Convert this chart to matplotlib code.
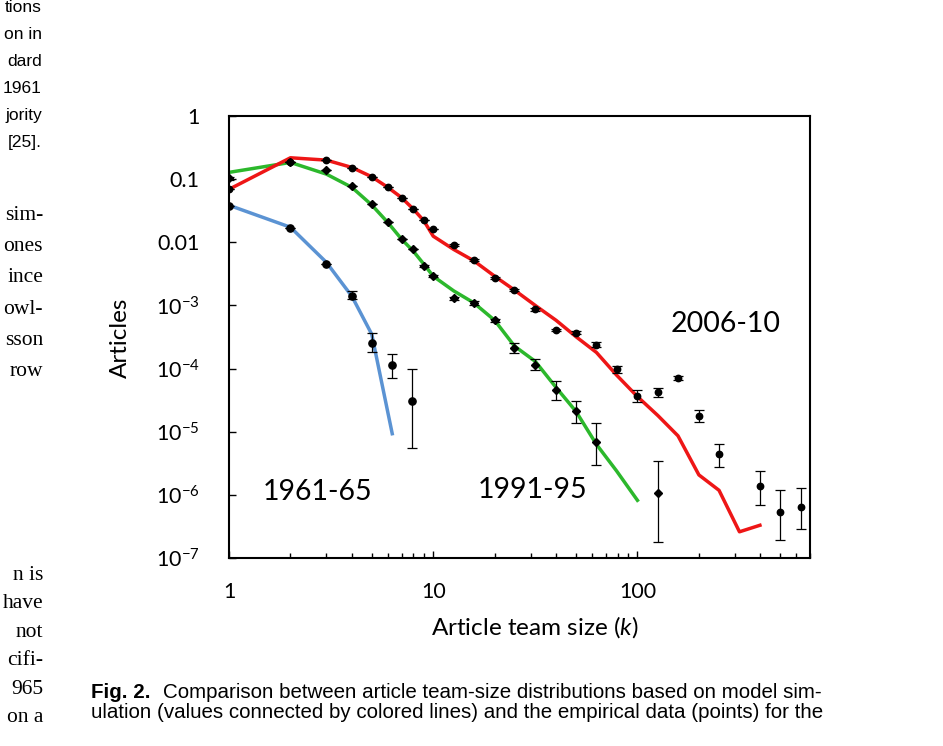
import numpy as np
import matplotlib.pyplot as plt
from matplotlib.ticker import LogLocator, FixedLocator, NullFormatter

plt.rcParams['font.family'] = ['Lato', 'DejaVu Sans']
plt.rcParams['mathtext.fontset'] = 'custom'
plt.rcParams['mathtext.rm'] = 'Lato'
plt.rcParams['mathtext.it'] = 'Lato:italic'

# ---- data ----
# model curves (lines)
k_model_61 = [1, 2, 3, 4, 5, 6.3]
y_model_61 = [0.0386, 0.0173, 0.0048, 1.39e-3, 3.5e-4, 9.3e-6]

k_model_91 = [1, 2, 3, 4, 5, 6, 7, 8, 9, 10, 12.6, 15.8, 20, 25, 31.6, 40, 50, 63, 79, 100]
y_model_91 = [0.128, 0.184, 0.12, 0.074, 0.039, 0.0205, 0.0112, 0.0072, 4.5e-3, 2.9e-3,
              1.7e-3, 1.1e-3, 5.8e-4, 2.27e-4, 1.3e-4, 5.0e-5, 2.1e-5, 6.3e-6, 2.4e-6, 8.2e-7]

k_model_06 = [1, 2, 3, 4, 5, 6, 7, 8, 9, 10, 12.6, 15.8, 20, 25, 31.6, 40, 50, 63, 79,
              100, 126, 158, 200, 251, 316, 398]
y_model_06 = [0.069, 0.218, 0.2, 0.153, 0.109, 0.074, 0.051, 0.0334, 0.0219, 0.0125,
              7.7e-3, 5.1e-3, 2.9e-3, 1.75e-3, 1.0e-3, 5.8e-4, 3.2e-4, 1.8e-4, 7.9e-5,
              3.6e-5, 1.8e-5, 8.6e-6, 2.07e-6, 1.18e-6, 2.6e-7, 3.3e-7]

# empirical points, with lower / upper ends of the error bars
k_data_61 = [1, 2, 3, 4, 5, 6.3, 7.9]
y_data_61 = [0.038, 0.017, 0.0046, 1.4e-3, 2.5e-4, 1.12e-4, 3.1e-5]
lo_data_61 = [0.038, 0.017, 0.0046, 1.25e-3, 1.8e-4, 7.0e-5, 5.5e-6]
hi_data_61 = [0.038, 0.017, 0.0046, 1.68e-3, 3.7e-4, 1.73e-4, 1.0e-4]

k_data_91 = [1, 2, 3, 4, 5, 6, 7, 8, 9, 10, 12.6, 15.8, 20, 25, 31.6, 40, 50, 63, 126]
y_data_91 = [0.103, 0.185, 0.14, 0.078, 0.040, 0.0213, 0.0112, 7.7e-3, 4.2e-3, 2.9e-3,
             1.29e-3, 1.1e-3, 5.8e-4, 2.09e-4, 1.16e-4, 4.6e-5, 2.1e-5, 6.8e-6, 1.06e-6]
lo_data_91 = [0.098, 0.185, 0.14, 0.078, 0.040, 0.0213, 0.0112, 7.7e-3, 4.0e-3, 2.8e-3,
              1.22e-3, 1.03e-3, 5.4e-4, 1.78e-4, 9.6e-5, 3.2e-5, 1.38e-5, 3.0e-6, 1.8e-7]
hi_data_91 = [0.108, 0.185, 0.14, 0.078, 0.040, 0.0213, 0.0112, 7.7e-3, 4.4e-3, 3.0e-3,
              1.36e-3, 1.17e-3, 6.2e-4, 2.5e-4, 1.44e-4, 6.3e-5, 3.1e-5, 1.35e-5, 3.5e-6]

k_data_06 = [1, 2, 3, 4, 5, 6, 7, 8, 9, 10, 12.6, 15.8, 20, 25, 31.6, 40, 50, 63, 79,
             100, 126, 158, 200, 251, 398, 501, 631]
y_data_06 = [0.071, 0.19, 0.2, 0.151, 0.109, 0.074, 0.051, 0.0334, 0.0223, 0.0162,
             9.1e-3, 5.2e-3, 2.75e-3, 1.75e-3, 8.7e-4, 4.1e-4, 3.7e-4, 2.4e-4, 9.9e-5,
             3.7e-5, 4.3e-5, 7.1e-5, 1.79e-5, 4.4e-6, 1.38e-6, 5.4e-7, 6.4e-7]
lo_data_06 = [0.071, 0.19, 0.2, 0.151, 0.109, 0.074, 0.051, 0.0334, 0.0223, 0.0162,
              8.8e-3, 5.0e-3, 2.65e-3, 1.68e-3, 8.3e-4, 3.9e-4, 3.5e-4, 2.2e-4, 8.6e-5,
              3.0e-5, 3.6e-5, 6.6e-5, 1.41e-5, 2.8e-6, 6.9e-7, 1.9e-7, 2.9e-7]
hi_data_06 = [0.071, 0.19, 0.2, 0.151, 0.109, 0.074, 0.051, 0.0334, 0.0223, 0.0162,
              9.4e-3, 5.4e-3, 2.85e-3, 1.82e-3, 9.1e-4, 4.3e-4, 3.9e-4, 2.6e-4, 1.1e-4,
              4.5e-5, 4.9e-5, 7.5e-5, 2.2e-5, 6.4e-6, 2.4e-6, 1.2e-6, 1.27e-6]

y_ticks = [1e-7, 1e-6, 1e-5, 1e-4, 1e-3, 1e-2, 1e-1, 1]
y_ticklabels = [r'10$^{\mathregular{-7}}$', r'10$^{\mathregular{-6}}$', r'10$^{\mathregular{-5}}$',
                r'10$^{\mathregular{-4}}$', r'10$^{\mathregular{-3}}$', '0.01', '0.1', '1']
x_ticks = [1, 10, 100]
x_ticklabels = ['1', '10', '100']

col_61 = '#5b93d3'
col_91 = '#2cb82c'
col_06 = '#ee1616'

fig = plt.figure(figsize=(9.43, 7.46), dpi=100)
ax = fig.add_axes([229 / 943, 1 - 558 / 746, 581 / 943, 442 / 746])

ax.plot(k_model_61, y_model_61, color=col_61, lw=2.5, zorder=2)
ax.plot(k_model_91, y_model_91, color=col_91, lw=2.5, zorder=2)
ax.plot(k_model_06, y_model_06, color=col_06, lw=2.5, zorder=2)


def points(k, y, lo, hi, marker, ms):
    y = np.array(y)
    err = [y - np.array(lo), np.array(hi) - y]
    ax.errorbar(k, y, yerr=err, fmt=marker, ms=ms, color='black', ecolor='black',
                elinewidth=0.9, capsize=3.5, capthick=0.9, zorder=3)


points(k_data_61, y_data_61, lo_data_61, hi_data_61, 'o', 5.2)
points(k_data_06, y_data_06, lo_data_06, hi_data_06, 'o', 4.6)
points(k_data_91, y_data_91, lo_data_91, hi_data_91, 'D', 3.6)

ax.text(2.72, 1.1e-6, '1961-65', fontsize=20.5, ha='center', va='center')
ax.text(30.7, 1.2e-6, '1991-95', fontsize=20.5, ha='center', va='center')
ax.text(269, 5.0e-4, '2006-10', fontsize=20.5, ha='center', va='center')

ax.set_xscale('log')
ax.set_yscale('log')
ax.set_xlim(1, 700)
ax.set_ylim(1e-7, 1)

ax.yaxis.set_major_locator(FixedLocator(y_ticks))
ax.set_yticklabels(y_ticklabels)
ax.yaxis.set_minor_locator(FixedLocator([]))
ax.xaxis.set_major_locator(FixedLocator(x_ticks))
ax.set_xticklabels(x_ticklabels)
ax.xaxis.set_minor_locator(LogLocator(base=10, subs=np.arange(2, 10)))
ax.xaxis.set_minor_formatter(NullFormatter())

ax.tick_params(axis='both', which='major', direction='in', length=5, width=1, labelsize=15.5)
ax.tick_params(axis='x', which='minor', direction='in', length=3.5, width=1)
ax.tick_params(axis='y', pad=21)
ax.tick_params(axis='x', pad=17)
for s in ax.spines.values():
    s.set_linewidth(1.5)

ax.set_xlabel(r'Article team size ($\mathit{k}$)', fontsize=17.5)
ax.xaxis.set_label_coords(0.527, -0.128)
ax.set_ylabel('Articles', fontsize=17.5)
ax.yaxis.set_label_coords(-0.168, 0.498)

# surrounding page text
sans = ['Liberation Sans', 'DejaVu Sans']
serif = ['Liberation Serif', 'DejaVu Serif']
left_sans = ['tions', 'on in', 'dard', '1961', 'jority', '[25].']
for i, t in enumerate(left_sans):
    fig.text(42 / 943, 1 - (8 + 26.8 * i) / 746, t, family=sans, fontsize=12.5,
             ha='right', va='center')
left_serif_top = ['sim-', 'ones', 'ince', 'owl-', 'sson', 'row']
for i, t in enumerate(left_serif_top):
    fig.text(43 / 943, 1 - (215 + 31.4 * i) / 746, t, family=serif, fontsize=15.5,
             ha='right', va='center')
left_serif_bot = ['n is', 'have', 'not', 'cifi-', '965', 'on a']
for i, t in enumerate(left_serif_bot):
    fig.text(43 / 943, 1 - (575 + 28.6 * i) / 746, t, family=serif, fontsize=15.5,
             ha='right', va='center')

fig.text(91 / 943, 1 - 692 / 746, 'Fig. 2.', family=sans, fontsize=14.8,
         fontweight='bold', ha='left', va='center')
fig.text(163 / 943, 1 - 692 / 746,
         'Comparison between article team-size distributions based on model sim-',
         family=sans, fontsize=14.8, ha='left', va='center')
fig.text(91 / 943, 1 - 712 / 746,
         'ulation (values connected by colored lines) and the empirical data (points) for the',
         family=sans, fontsize=14.8, ha='left', va='center')

fig.savefig('out.png', dpi=100)
